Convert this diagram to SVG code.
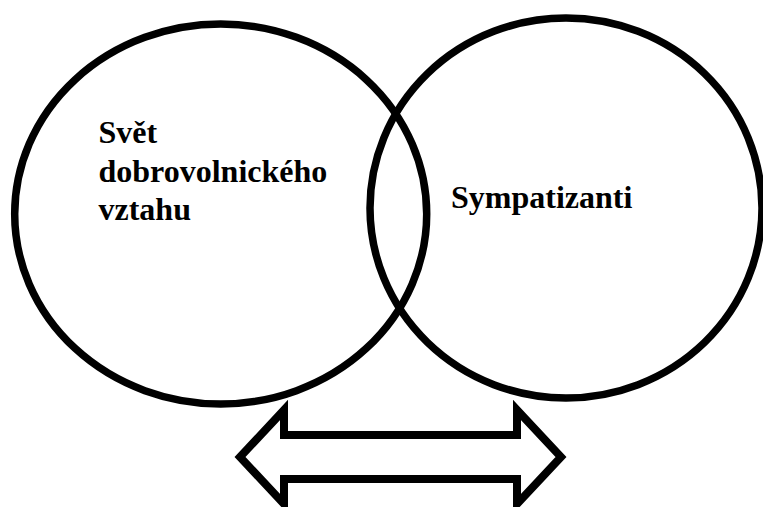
<svg xmlns="http://www.w3.org/2000/svg" width="763" height="507" viewBox="0 0 763 507">
  <style>
    .ring { fill: none; stroke: #000; stroke-width: 7.5; }
    .arrow { fill: #fff; stroke: #000; stroke-width: 8; stroke-linejoin: miter; stroke-miterlimit: 10; }
    .lbl { font-weight: bold; font-size: 32px; fill: #000; }
  </style>
  <rect x="0" y="0" width="763" height="507" fill="#fff"/>
  <g id="node-svet">
    <ellipse class="ring" cx="220.7" cy="214" rx="206" ry="190"/>
    <text class="lbl" font-family="Liberation Serif, serif" x="98.5" y="143.3">Svět</text>
    <text class="lbl" font-family="Liberation Serif, serif" x="98.5" y="181.7">dobrovolnického</text>
    <text class="lbl" font-family="Liberation Serif, serif" x="98.5" y="220">vztahu</text>
  </g>
  <g id="node-sympatizanti">
    <ellipse class="ring" cx="566" cy="208" rx="196" ry="190"/>
    <text class="lbl" font-family="Liberation Serif, serif" x="451" y="207.5">Sympatizanti</text>
  </g>
  <g id="connectors">
    <polygon class="arrow" points="240,457 284,410 284,435 517,435 517,410 561,457 517,504 517,479 284,479 284,504"/>
  </g>
</svg>
